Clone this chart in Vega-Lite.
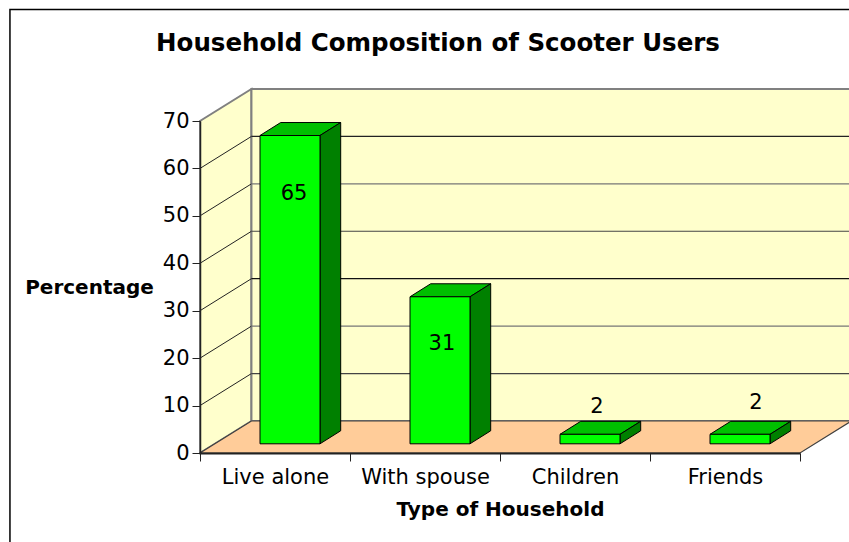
{
"$schema":"https://vega.github.io/schema/vega-lite/v6.json",
"width":600,"height":332,
"autosize":{"type":"none"},
"padding":{"left":200,"top":121,"right":49,"bottom":89},
"background":"white",
"view":{"stroke":null},
"title":{"text":"Household Composition of Scooter Users","font":"DejaVu Sans","fontSize":24.5,"fontWeight":"bold","color":"black","anchor":"middle","dx":-62,"offset":-48},
"datasets":{
"frame":[{"u":-1.267,"u2":5,"lo":-25,"hi":93.5}],
"walls":[
{"part":"left","u":0,"lo":0,"hi":70},{"part":"left","u":0.343,"lo":6.75,"hi":76.75},
{"part":"back","u":0.343,"lo":6.75,"hi":76.75},{"part":"back","u":4.343,"lo":6.75,"hi":76.75}],
"floor":[{"part":"floor","u":0,"lo":0,"hi":0},{"part":"floor","u":0.343,"lo":0,"hi":6.75},{"part":"floor","u":4,"lo":0,"hi":6.75},{"part":"floor","u":4.343,"lo":6.75,"hi":6.75}],
"gridSide":[
{"level":10,"u":0,"lo":10},{"level":10,"u":0.343,"lo":16.75},
{"level":20,"u":0,"lo":20},{"level":20,"u":0.343,"lo":26.75},
{"level":30,"u":0,"lo":30},{"level":30,"u":0.343,"lo":36.75},
{"level":40,"u":0,"lo":40},{"level":40,"u":0.343,"lo":46.75},
{"level":50,"u":0,"lo":50},{"level":50,"u":0.343,"lo":56.75},
{"level":60,"u":0,"lo":60},{"level":60,"u":0.343,"lo":66.75}],
"gridBack":[
{"level":"10","u":0.343,"lo":16.75},{"level":"10","u":4.343,"lo":16.75},
{"level":"20","u":0.343,"lo":26.75},{"level":"20","u":4.343,"lo":26.75},
{"level":"30","u":0.343,"lo":36.75},{"level":"30","u":4.343,"lo":36.75},
{"level":"40","u":0.343,"lo":46.75},{"level":"40","u":4.343,"lo":46.75},
{"level":"50","u":0.343,"lo":56.75},{"level":"50","u":4.343,"lo":56.75},
{"level":"60","u":0.343,"lo":66.75},{"level":"60","u":4.343,"lo":66.75}],
"bars":[
{"category":"Live alone","slot":0,"value":65,"labelU":0.627,"labelAt":54.6},
{"category":"With spouse","slot":1,"value":31,"labelU":1.613,"labelAt":23},
{"category":"Children","slot":2,"value":2,"labelU":2.647,"labelAt":9.8},
{"category":"Friends","slot":3,"value":2,"labelU":3.707,"labelAt":10.6}],
"tops":[
{"part":"a","u":0.4,"lo":66.94,"hi":66.94},{"part":"a","u":0.538,"lo":66.94,"hi":69.68},{"part":"a","u":0.8,"lo":66.94,"hi":69.68},{"part":"a","u":0.938,"lo":69.68,"hi":69.68},
{"part":"b","u":1.4,"lo":32.94,"hi":32.94},{"part":"b","u":1.538,"lo":32.94,"hi":35.68},{"part":"b","u":1.8,"lo":32.94,"hi":35.68},{"part":"b","u":1.938,"lo":35.68,"hi":35.68},
{"part":"c","u":2.4,"lo":3.94,"hi":3.94},{"part":"c","u":2.538,"lo":3.94,"hi":6.68},{"part":"c","u":2.8,"lo":3.94,"hi":6.68},{"part":"c","u":2.938,"lo":6.68,"hi":6.68},
{"part":"d","u":3.4,"lo":3.94,"hi":3.94},{"part":"d","u":3.538,"lo":3.94,"hi":6.68},{"part":"d","u":3.8,"lo":3.94,"hi":6.68},{"part":"d","u":3.938,"lo":6.68,"hi":6.68}],
"sides":[
{"part":"a","u":0.8,"lo":1.94,"hi":66.94},{"part":"a","u":0.938,"lo":4.68,"hi":69.68},
{"part":"b","u":1.8,"lo":1.94,"hi":32.94},{"part":"b","u":1.938,"lo":4.68,"hi":35.68},
{"part":"c","u":2.8,"lo":1.94,"hi":3.94},{"part":"c","u":2.938,"lo":4.68,"hi":6.68},
{"part":"d","u":3.8,"lo":1.94,"hi":3.94},{"part":"d","u":3.938,"lo":4.68,"hi":6.68}]
},
"layer":[
{"data":{"name":"frame"},"mark":{"type":"rect","fill":null,"stroke":"black","strokeWidth":1.5},
 "encoding":{"x":{"field":"u","type":"quantitative","scale":{"domain":[0,4],"nice":false},
   "axis":{"values":[0,1,2,3,4],"grid":false,"zindex":1,"domainColor":"#222222","domainWidth":2,"tickColor":"#222222","tickSize":8,"labelOffset":75,"labelOverlap":false,"labelFlush":false,
     "labelExpr":"['Live alone','With spouse','Children','Friends'][datum.value] || ''",
     "labelFont":"DejaVu Sans","labelFontSize":21,"labelColor":"black","labelPadding":5,
     "title":"Type of Household","titleFont":"DejaVu Sans","titleFontSize":20,"titleFontWeight":"bold","titleColor":"black","titleX":300,"titleY":56,"titleAlign":"center","titleBaseline":"middle"}},
  "x2":{"field":"u2"},
  "y":{"field":"lo","type":"quantitative","scale":{"domain":[0,70],"nice":false},
   "axis":{"values":[0,10,20,30,40,50,60,70],"grid":false,"zindex":1,"domainColor":"#222222","domainWidth":1.5,"tickColor":"#222222","tickSize":8,"labelFont":"DejaVu Sans","labelFontSize":21,"labelColor":"black","labelPadding":3,
     "title":"Percentage","titleFont":"DejaVu Sans","titleFontSize":20,"titleFontWeight":"bold","titleColor":"black","titleAngle":0,"titleX":-111,"titleY":166,"titleAlign":"center","titleBaseline":"middle"}},
  "y2":{"field":"hi"}}},
{"data":{"name":"walls"},"mark":{"type":"area","fill":"#FFFFCC","stroke":"#808080","strokeWidth":2},
 "encoding":{"x":{"field":"u","type":"quantitative"},"y":{"field":"lo","type":"quantitative"},"y2":{"field":"hi"},"detail":{"field":"part"}}},
{"data":{"name":"floor"},"mark":{"type":"area","fill":"#FFCC99","stroke":"#404040","strokeWidth":1.2},
 "encoding":{"x":{"field":"u","type":"quantitative"},"y":{"field":"lo","type":"quantitative"},"y2":{"field":"hi"},"detail":{"field":"part"}}},
{"data":{"name":"gridSide"},"mark":{"type":"line","color":"#222222","strokeWidth":1},
 "encoding":{"x":{"field":"u","type":"quantitative"},"y":{"field":"lo","type":"quantitative"},"detail":{"field":"level"}}},
{"data":{"name":"gridBack"},"mark":{"type":"line","strokeWidth":1.2},
 "encoding":{"x":{"field":"u","type":"quantitative"},"y":{"field":"lo","type":"quantitative"},
  "color":{"field":"level","type":"nominal","legend":null,"scale":{"domain":["10","20","30","40","50","60"],"range":["#444444","#777777","#111111","#444444","#777777","#222222"]}}}},
{"data":{"name":"tops"},"mark":{"type":"area","fill":"#00BF00","stroke":"black","strokeWidth":1},
 "encoding":{"x":{"field":"u","type":"quantitative"},"y":{"field":"lo","type":"quantitative"},"y2":{"field":"hi"},"detail":{"field":"part"}}},
{"data":{"name":"sides"},"mark":{"type":"area","fill":"#008000","stroke":"black","strokeWidth":1},
 "encoding":{"x":{"field":"u","type":"quantitative"},"y":{"field":"lo","type":"quantitative"},"y2":{"field":"hi"},"detail":{"field":"part"}}},
{"data":{"name":"bars"},"mark":{"type":"rect","fill":"#00FF00","stroke":"black","strokeWidth":1,"xOffset":60,"x2Offset":120,"yOffset":-9.2,"y2Offset":-9.2},
 "encoding":{"x":{"field":"slot","type":"quantitative"},"x2":{"field":"slot"},"y":{"field":"value","type":"quantitative"},"y2":{"datum":0}}},
{"data":{"name":"bars"},"mark":{"type":"text","font":"DejaVu Sans","fontSize":21,"color":"black","align":"center","baseline":"middle"},
 "encoding":{"x":{"field":"labelU","type":"quantitative"},"y":{"field":"labelAt","type":"quantitative"},"text":{"field":"value","type":"quantitative"}}}
]
}
